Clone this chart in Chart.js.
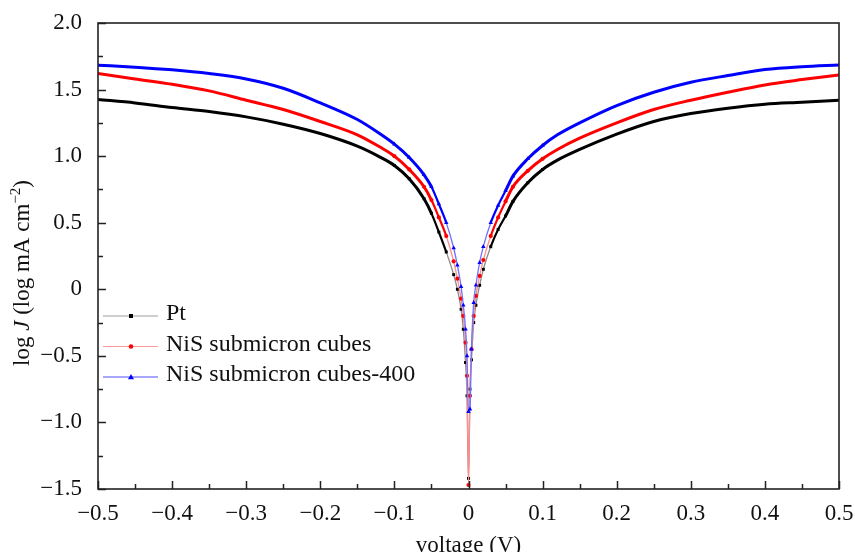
<!DOCTYPE html>
<html><head><meta charset="utf-8">
<script src="https://cdn.jsdelivr.net/npm/chart.js@4.4.1/dist/chart.umd.min.js"></script>
<style>html,body{margin:0;padding:0;background:#fff;}#wrap{width:855px;height:552px;position:relative;}</style>
</head><body><div id="wrap"><canvas id="c" width="855" height="552"></canvas></div>
<script>
const voltage = [-0.5,-0.45,-0.4,-0.35,-0.3,-0.25,-0.2,-0.15,-0.12,-0.1,-0.08,-0.06,-0.05,-0.04,-0.03,-0.02,-0.015,-0.01,-0.007,-0.004,-0.002,0,
  0.002,0.004,0.007,0.01,0.015,0.02,0.03,0.04,0.05,0.06,0.08,0.1,0.12,0.15,0.2,0.25,0.3,0.35,0.4,0.45,0.5];
const ptLogJ = [1.425,1.40,1.365,1.335,1.295,1.24,1.17,1.075,0.995,0.93,0.83,0.68,0.57,0.43,0.28,0.11,0.0,-0.15,-0.3,-0.55,-0.8,-1.42,
  -0.75,-0.53,-0.25,-0.12,0.03,0.15,0.32,0.45,0.55,0.66,0.80,0.90,0.97,1.05,1.165,1.26,1.32,1.36,1.39,1.405,1.42];
const nisLogJ = [1.62,1.58,1.54,1.49,1.42,1.35,1.26,1.16,1.07,1.0,0.90,0.77,0.67,0.54,0.40,0.21,0.08,-0.07,-0.2,-0.4,-0.65,-1.47,
  -0.8,-0.45,-0.2,-0.05,0.1,0.22,0.40,0.54,0.66,0.77,0.89,0.98,1.05,1.135,1.25,1.35,1.42,1.48,1.535,1.575,1.61];
const nis400LogJ = [1.683,1.668,1.648,1.62,1.58,1.51,1.40,1.275,1.17,1.09,0.99,0.86,0.77,0.64,0.50,0.31,0.18,0.02,-0.12,-0.3,-0.5,-0.92,
  -0.9,-0.45,-0.1,0.03,0.2,0.32,0.50,0.63,0.74,0.85,0.98,1.08,1.16,1.25,1.38,1.48,1.555,1.605,1.65,1.672,1.685];
const seriesLabels = ['Pt','NiS submicron cubes','NiS submicron cubes-400'];
const xTickValues = [-0.5,-0.4,-0.3,-0.2,-0.1,0,0.1,0.2,0.3,0.4,0.5];
const yTickValues = [-1.5,-1.0,-0.5,0,0.5,1.0,1.5,2.0];
const xTitle = 'voltage (V)';

const FONT = 'Liberation Serif';
const mainColors = ['#000000','#ff0000','#0000ff'];
const lightColors = ['#8a8a8a','#ff8c8c','#7070ff'];
const legendLineColors = ['#a0a0a0','#ff9a9a','#5050ff'];
const pointStyles = ['rect','circle','triangle'];

function fmt(v){
  const r = Math.round(v*10)/10;
  if (Math.abs(r) < 1e-9) return '0';
  return (r < 0 ? '\u2212' : '') + Math.abs(r).toFixed(1);
}
function pts(arr){ return voltage.map((v,i)=>({x:v,y:arr[i]})); }
const segMax = c => Math.max(Math.abs(c.p0.parsed.x), Math.abs(c.p1.parsed.x));

const seriesData = [ptLogJ, nisLogJ, nis400LogJ];
const datasets = seriesData.map((arr,i)=>({
  label: seriesLabels[i],
  data: pts(arr),
  borderColor: mainColors[i],
  backgroundColor: mainColors[i],
  borderWidth: 3,
  pointStyle: pointStyles[i],
  pointRadius: ctx => { const v = ctx.raw ? Math.abs(ctx.raw.x) : 1; return v <= 0.1 ? (i===2?2.6:2.1) : 0; },
  pointBorderWidth: 0,
  pointBackgroundColor: mainColors[i],
  order: 2-i,
  cubicInterpolationMode: 'monotone',
  segment: {
    borderWidth: c => { const m = segMax(c); return m <= 0.03 ? 1.3 : (m <= 0.05 ? 2.2 : 3); },
    borderColor: c => segMax(c) <= 0.03 ? lightColors[i] : mainColors[i]
  }
}));

const decor = {
  id: 'decor',
  afterDatasetsDraw(chart){
    const {ctx, chartArea:a, scales:{x, y}} = chart;
    ctx.save();
    ctx.strokeStyle = '#222';
    ctx.lineWidth = 1.5;
    ctx.beginPath();
    for (let k=0;k<=20;k++){
      const v = -0.5 + k*0.05;
      const px = Math.round(x.getPixelForValue(v))+0.5;
      const len = (k%2===0) ? 8 : 5;
      ctx.moveTo(px, a.bottom); ctx.lineTo(px, a.bottom-len);
    }
    for (let k=0;k<=14;k++){
      const v = -1.5 + k*0.25;
      const py = Math.round(y.getPixelForValue(v))+0.5;
      const len = (k%2===0) ? 8 : 5;
      ctx.moveTo(a.left, py); ctx.lineTo(a.left+len, py);
    }
    ctx.stroke();
    ctx.lineWidth = 1.6;
    ctx.strokeRect(a.left, a.top, a.right-a.left, a.bottom-a.top);

    const ly = [316, 346.5, 377];
    chart.data.datasets.forEach((ds,i)=>{
      ctx.strokeStyle = legendLineColors[i];
      ctx.lineWidth = 1.2;
      ctx.beginPath(); ctx.moveTo(103, ly[i]); ctx.lineTo(158, ly[i]); ctx.stroke();
      ctx.fillStyle = mainColors[i];
      if (i===0){ ctx.fillRect(129, ly[i]-2, 4, 4); }
      else if (i===1){ ctx.beginPath(); ctx.arc(131, ly[i], 2.3, 0, Math.PI*2); ctx.fill(); }
      else { ctx.beginPath(); ctx.moveTo(131, ly[i]-3); ctx.lineTo(134, ly[i]+2.2); ctx.lineTo(128, ly[i]+2.2); ctx.closePath(); ctx.fill(); }
      ctx.fillStyle = '#111';
      ctx.font = '24px "' + FONT + '"';
      ctx.textAlign = 'left'; ctx.textBaseline = 'middle';
      ctx.fillText(ds.label, 166, ly[i]-2);
    });

    ctx.fillStyle = '#111';
    ctx.font = '23px "' + FONT + '"';
    ctx.textAlign = 'center'; ctx.textBaseline = 'alphabetic';
    ctx.fillText(xTitle, (a.left+a.right)/2, 552);

    const parts = [
      {t:'log ', f:'23px "'+FONT+'"', dy:0},
      {t:'J', f:'italic 23px "'+FONT+'"', dy:0},
      {t:' (log mA cm', f:'23px "'+FONT+'"', dy:0},
      {t:'\u22122', f:'15px "'+FONT+'"', dy:-9},
      {t:')', f:'23px "'+FONT+'"', dy:0}
    ];
    let total = 0;
    parts.forEach(p=>{ ctx.font = p.f; p.w = ctx.measureText(p.t).width; total += p.w; });
    ctx.translate(29, 273);
    ctx.rotate(-Math.PI/2);
    let cx = -total/2;
    ctx.textAlign = 'left';
    parts.forEach(p=>{ ctx.font = p.f; ctx.fillText(p.t, cx, p.dy); cx += p.w; });
    ctx.restore();
  }
};

new Chart(document.getElementById('c'), {
  type: 'line',
  data: { datasets },
  options: {
    responsive: false,
    animation: false,
    devicePixelRatio: 1,
    layout: { padding: { top: 23, right: 16, left: 0, bottom: 0 } },
    plugins: { legend: { display: false }, tooltip: { enabled: false } },
    scales: {
      x: {
        type: 'linear', min: -0.5, max: 0.5,
        afterBuildTicks: s => { s.ticks = xTickValues.map(v=>({value:v})); },
        ticks: { callback: v => fmt(v), font: { family: FONT, size: 23 }, color: '#111', padding: 3, maxRotation: 0, autoSkip: false },
        grid: { display: false },
        border: { display: false },
        afterFit: s => { s.height = 63; s.paddingLeft = 0; s.paddingRight = 0; }
      },
      y: {
        type: 'linear', min: -1.5, max: 2.0,
        afterBuildTicks: s => { s.ticks = yTickValues.map(v=>({value:v})); },
        ticks: { callback: v => fmt(v), font: { family: FONT, size: 23 }, color: '#111', padding: 8 },
        grid: { display: false },
        border: { display: false },
        afterFit: s => { s.width = 98; s.paddingTop = 0; s.paddingBottom = 0; }
      }
    }
  },
  plugins: [decor]
});
</script></body></html>
